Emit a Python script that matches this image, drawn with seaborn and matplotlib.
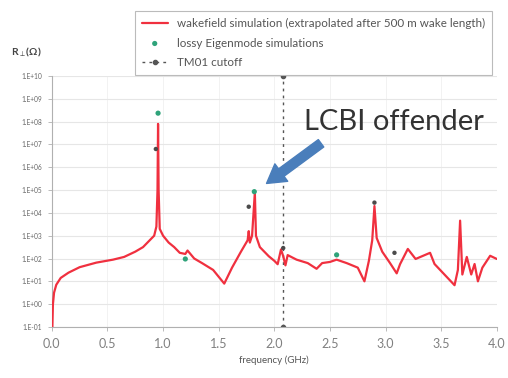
import numpy as np
import pandas as pd
import matplotlib
matplotlib.use("Agg")
import matplotlib.pyplot as plt
import seaborn as sns
from matplotlib.ticker import FixedLocator, FuncFormatter

# wakefield impedance curve (freq in GHz, log10 of R in Ohm)
wake_freq = [0.005, 0.01, 0.02, 0.04, 0.08, 0.15, 0.25, 0.40, 0.55, 0.65,
             0.75, 0.82, 0.88, 0.92, 0.94, 0.95, 0.955, 0.96, 0.97, 1.00,
             1.05, 1.10, 1.15, 1.20, 1.22, 1.28, 1.35, 1.45, 1.55, 1.62,
             1.70, 1.76, 1.77, 1.78, 1.80, 1.825, 1.835, 1.87, 1.95, 2.00,
             2.03, 2.06, 2.08, 2.10, 2.12, 2.20, 2.30, 2.38, 2.43, 2.50,
             2.56, 2.65, 2.75, 2.81, 2.85, 2.88, 2.90, 2.92, 2.97, 3.04,
             3.10, 3.13, 3.20, 3.27, 3.40, 3.44, 3.50, 3.62, 3.65, 3.67,
             3.69, 3.73, 3.77, 3.80, 3.83, 3.87, 3.94, 4.00]
wake_log = [-1.0, 0.0, 0.5, 0.85, 1.15, 1.38, 1.62, 1.82, 1.95, 2.07,
            2.30, 2.50, 2.80, 3.00, 3.40, 5.00, 7.90, 5.00, 3.30, 3.00,
            2.70, 2.50, 2.25, 2.20, 2.35, 2.00, 1.80, 1.50, 0.90, 1.60,
            2.30, 2.80, 3.20, 2.70, 3.00, 4.90, 3.00, 2.50, 2.10, 1.90,
            1.75, 2.40, 2.10, 1.70, 2.15, 1.95, 1.80, 1.55, 1.80, 1.85,
            1.95, 1.80, 1.60, 1.00, 1.90, 2.80, 4.30, 2.90, 2.30, 1.80,
            1.35, 1.75, 2.42, 1.98, 2.25, 1.76, 1.45, 0.83, 1.50, 3.66,
            1.30, 2.07, 1.30, 1.76, 1.00, 1.60, 2.12, 1.98]

# lossy eigenmode results (green)
eig_freq = [0.955, 1.20, 1.82, 2.56]
eig_log = [8.37, 1.98, 4.93, 2.16]

# other eigenmode marks (dark)
dark_freq = [0.935, 1.77, 2.08, 2.90, 3.08]
dark_log = [6.80, 4.27, 2.46, 4.45, 2.25]

# TM01 cutoff
cutoff_freq = [2.08, 2.08]
cutoff_r = [1e-1, 1e10]

x_ticks = [0.0, 0.5, 1.0, 1.5, 2.0, 2.5, 3.0, 3.5, 4.0]
y_exps = list(range(-1, 11))

wake = pd.DataFrame({"f": wake_freq, "R": np.power(10.0, wake_log)})
eig = pd.DataFrame({"f": eig_freq, "R": np.power(10.0, eig_log)})
dark = pd.DataFrame({"f": dark_freq, "R": np.power(10.0, dark_log)})
cut = pd.DataFrame({"f": cutoff_freq, "R": cutoff_r})

sns.set_theme(style="white")
plt.rcParams["font.family"] = ["Lato", "DejaVu Sans"]

fig = plt.figure(figsize=(5.08, 3.78), dpi=100)
ax = fig.add_axes([0.102, 0.135, 0.876, 0.664])

sns.lineplot(data=wake, x="f", y="R", ax=ax, color="#f0303f", lw=1.6,
             label="wakefield simulation (extrapolated after 500 m wake length)",
             zorder=3)
sns.scatterplot(data=eig, x="f", y="R", ax=ax, color="#2fa37a", s=14,
                edgecolor="none", label="lossy Eigenmode simulations", zorder=5)
sns.scatterplot(data=dark, x="f", y="R", ax=ax, color="#4a4a4a", s=10,
                edgecolor="none", zorder=4)
ax.plot(cut["f"], cut["R"], color="#555555", lw=1.0, ls=(0, (2, 3)),
        marker="o", ms=3, label="TM01 cutoff", zorder=2)

ax.set_yscale("log")
ax.set_xlim(0, 4.0)
ax.set_ylim(10.0 ** -1, 10.0 ** 10)
ax.yaxis.set_major_locator(FixedLocator([10.0 ** e for e in y_exps]))
ax.yaxis.set_minor_locator(FixedLocator([]))
ax.yaxis.set_major_formatter(FuncFormatter(lambda v, p: f"1.E{int(round(np.log10(v))):+03d}"))
ax.set_xticks(x_ticks)
ax.set_xticklabels([f"{t:.1f}" for t in x_ticks])

ax.grid(True, axis="y", color="#e6e6e6", lw=0.8)
ax.grid(True, axis="x", color="#f0f0f0", lw=0.6)
for s in ["top", "right"]:
    ax.spines[s].set_visible(False)
for s in ["left", "bottom"]:
    ax.spines[s].set_color("#b0b0b0")
    ax.spines[s].set_linewidth(0.8)
ax.tick_params(axis="y", labelsize=4.8, colors="#b0b0b0", labelcolor="#666666",
               length=3, width=0.6, left=True, pad=4)
ax.tick_params(axis="x", labelsize=9, colors="#b0b0b0", labelcolor="#808080",
               length=3, width=0.6, bottom=True, pad=5)

ax.set_xlabel("frequency (GHz)", fontsize=7, color="#555555", labelpad=4)
ax.set_ylabel("")
fig.text(0.022, 0.862, r"R$_{\perp}$(Ω)", fontsize=7.5, color="#444444",
         fontweight="bold", ha="left", va="center")

# annotation
ax.annotate("", xy=(1.93, 10 ** 5.29), xytext=(2.42, 10 ** 7.05),
            arrowprops=dict(arrowstyle="simple,head_width=1.3,head_length=1.1,tail_width=0.55",
                            color="#4a7ebb", mutation_scale=12, shrinkA=0, shrinkB=0),
            zorder=6)
ax.text(2.27, 10 ** 7.97, "LCBI offender", fontsize=21, color="#333333",
        ha="left", va="center", zorder=6)

leg = ax.legend(loc="upper right", bbox_to_anchor=(0.980, 0.987),
                bbox_transform=fig.transFigure, fontsize=8.4, frameon=True,
                fancybox=False, edgecolor="#aaaaaa", labelspacing=0.75,
                handlelength=2.2, borderpad=0.6, alignment="left")
leg.get_frame().set_linewidth(0.8)
for t in leg.get_texts():
    t.set_color("#555555")

fig.savefig("out.png", dpi=100)
